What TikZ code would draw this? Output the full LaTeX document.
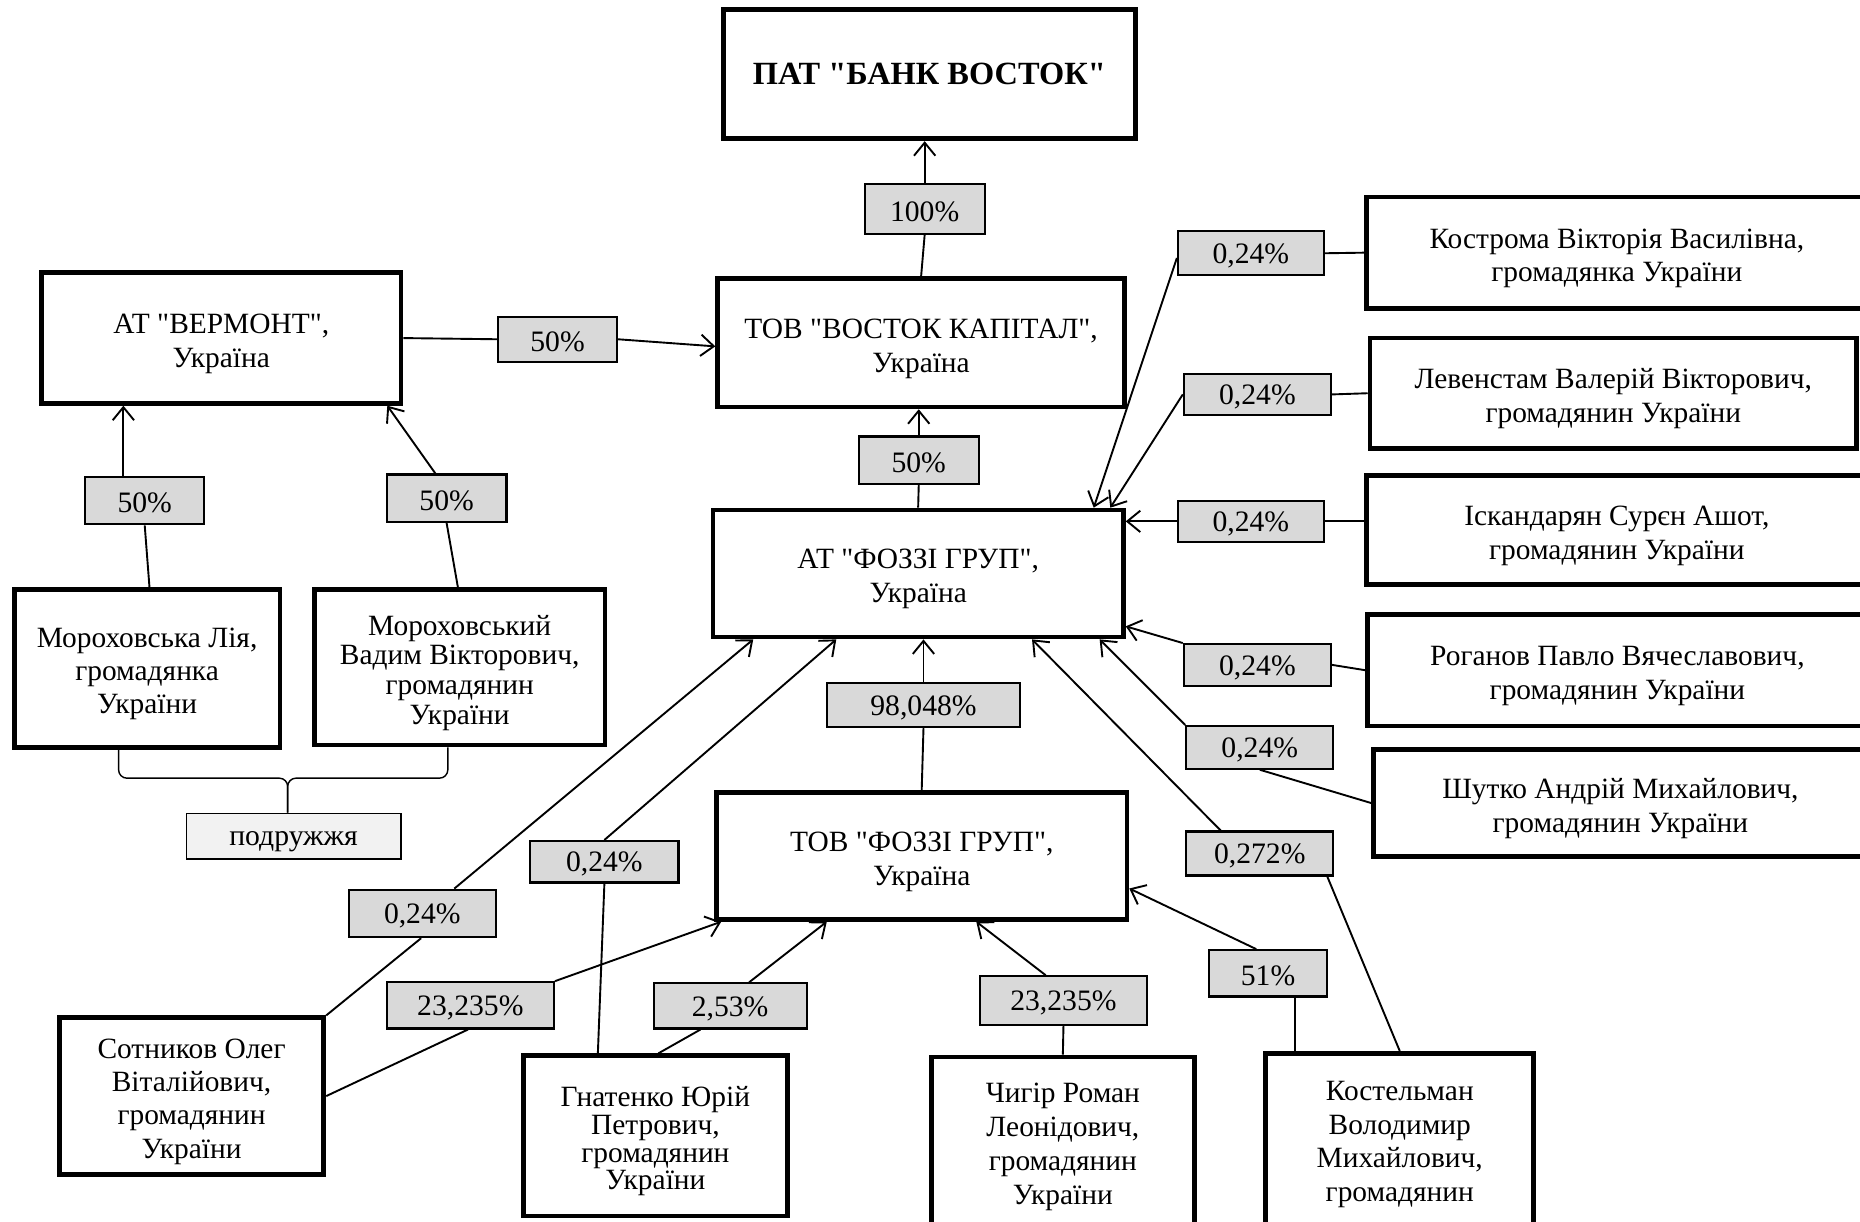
\documentclass[tikz,border=0pt]{standalone}
\usepackage{fontspec}
\setmainfont{Liberation Serif}[Ligatures=TeXOff]
\usetikzlibrary{arrows.meta}
\definecolor{lblgray}{HTML}{D9D9D9}
\definecolor{podgray}{HTML}{F2F2F2}
\newcommand\topstrut{\rule{0pt}{26pt}}
\begin{document}
\begin{tikzpicture}[x=1pt,y=-1pt,
 plainbox/.style={draw, line width=4pt, align=center, inner sep=0pt},
 box/.style={plainbox, font=\fontsize{24.8}{28.5}\selectfont},
 lbl/.style={draw, line width=1.8pt, fill=lblgray, inner sep=0pt, font=\fontsize{25}{28}\selectfont, execute at begin node={\rule{0pt}{21pt}}},
 conn/.style={line width=1.6pt},
 arr/.style={line width=1.6pt, -{Straight Barb[length=11pt,width=18pt]}},
 bracestyle/.style={line width=1.2pt, rounded corners=7pt},
]
\useasboundingbox (0,0) rectangle (1568,1030);
\fill[white] (0,0) rectangle (1568,1030);

% main boxes
\node[plainbox, minimum width=347pt, minimum height=109pt, font=\fontsize{27.3}{30}\selectfont\bfseries] (bank) at (783.5,62.5) {ПАТ "БАНК ВОСТОК"};
\node[box, minimum width=343pt, minimum height=108pt] (vostok) at (776.5,289) {\topstrut ТОВ "ВОСТОК КАПІТАЛ",\\Україна};
\node[box, minimum width=303pt, minimum height=110pt] (vermont) at (186.5,285) {\topstrut АТ "ВЕРМОНТ",\\Україна};
\node[box, minimum width=346pt, minimum height=107pt] (fat) at (774,483.5) {\topstrut АТ "ФОЗЗІ ГРУП",\\Україна};
\node[box, minimum width=346pt, minimum height=107pt] (ftov) at (777,721.5) {\topstrut ТОВ "ФОЗЗІ ГРУП",\\Україна};
\node[box, minimum width=224pt, minimum height=133pt, font=\fontsize{24.8}{28}\selectfont] (mlia) at (124,563.5) {\topstrut Мороховська Лія,\\громадянка\\України};
\node[box, minimum width=245pt, minimum height=131pt, font=\fontsize{24.8}{25}\selectfont] (mvad) at (387.5,562.5) {\topstrut Мороховський\\Вадим Вікторович,\\громадянин\\України};

\node[box, minimum width=422pt, minimum height=94pt] (kostroma) at (1363,213) {\topstrut Кострома Вікторія Василівна,\\громадянка України};
\node[box, minimum width=410pt, minimum height=93pt] (levenstam) at (1360,331.5) {\topstrut Левенстам Валерій Вікторович,\\громадянин України};
\node[box, minimum width=422pt, minimum height=92pt] (iskand) at (1363,447) {\topstrut Іскандарян Сурєн Ашот,\\громадянин України};
\node[box, minimum width=421pt, minimum height=94pt] (roganov) at (1363.5,565) {\topstrut Роганов Павло Вячеславович,\\громадянин України};
\node[box, minimum width=416pt, minimum height=90pt] (shutko) at (1366,677) {\topstrut Шутко Андрій Михайлович,\\громадянин України};

\node[box, minimum width=223pt, minimum height=132pt, font=\fontsize{24.8}{28}\selectfont] (sotnikov) at (161.5,924) {\topstrut Сотников Олег\\Віталійович,\\громадянин\\України};
\node[box, minimum width=223pt, minimum height=135pt, font=\fontsize{24.8}{23.5}\selectfont] (hnatenko) at (552.5,957.5) {\topstrut Гнатенко Юрій\\Петрович,\\громадянин\\України};
\node[box, minimum width=222pt, minimum height=142pt, font=\fontsize{24.8}{28.5}\selectfont] (chyhir) at (896,962) {\topstrut Чигір Роман\\Леонідович,\\громадянин\\України};
\node[box, minimum width=226pt, minimum height=144pt, font=\fontsize{24.8}{28.5}\selectfont] (kostelman) at (1180,960) {\topstrut Костельман\\Володимир\\Михайлович,\\громадянин};

% labels
\node[lbl, minimum width=101pt, minimum height=42pt] (l100) at (779.5,176) {100\%};
\node[lbl, minimum width=100pt, minimum height=38pt] (lverm) at (470,286) {50\%};
\node[lbl, minimum width=101pt, minimum height=40pt] (lvost) at (774.5,388) {50\%};
\node[lbl, minimum width=100pt, minimum height=40pt] (lmlia) at (122,422) {50\%};
\node[lbl, minimum width=101pt, minimum height=40pt] (lmvad) at (376.5,420) {50\%};
\node[lbl, fill=podgray, line width=1.2pt, minimum width=181pt, minimum height=38pt] (lpod) at (247.5,705) {подружжя};
\node[lbl, minimum width=123pt, minimum height=37pt] (lkos) at (1054.5,213.5) {0,24\%};
\node[lbl, minimum width=124pt, minimum height=35pt] (llev) at (1060,332.5) {0,24\%};
\node[lbl, minimum width=123pt, minimum height=35pt] (lisk) at (1054.5,439.5) {0,24\%};
\node[lbl, minimum width=124pt, minimum height=35pt] (lrog) at (1060,560.5) {0,24\%};
\node[lbl, minimum width=124pt, minimum height=36pt] (lshu) at (1062,630) {0,24\%};
\node[lbl, minimum width=124pt, minimum height=37pt] (lkst) at (1062,719.5) {0,272\%};
\node[lbl, minimum width=163pt, minimum height=37pt] (l98) at (778.5,594.5) {98,048\%};
\node[lbl, minimum width=125pt, minimum height=35pt] (lhn1) at (509.5,726.5) {0,24\%};
\node[lbl, minimum width=124pt, minimum height=40pt] (lsot1) at (356,770) {0,24\%};
\node[lbl, minimum width=141pt, minimum height=39pt] (lsot2) at (396.5,847.5) {23,235\%};
\node[lbl, minimum width=129pt, minimum height=38pt] (lhn2) at (615.5,848) {2,53\%};
\node[lbl, minimum width=141pt, minimum height=41pt] (lchy) at (896.5,843.5) {23,235\%};
\node[lbl, minimum width=100pt, minimum height=39pt] (l51) at (1069,820.5) {51\%};

% connectors
\draw[conn] (vostok.north) -- (l100.south);
\draw[arr] (l100.north) -- (l100.north |- bank.south);

\draw[conn] (vermont.east) -- (lverm.west);
\draw[arr] (lverm.east) -- ([yshift=-3pt]vostok.west);

\draw[conn] (fat.north) -- (lvost.south);
\draw[arr] (lvost.north) -- (lvost.north |- vostok.south);

\draw[conn] ([xshift=2pt]mlia.north) -- (lmlia.south);
\draw[arr] ([xshift=-18pt]lmlia.north) -- ([xshift=-82.5pt]vermont.south);

\draw[conn] ([xshift=-1.5pt]mvad.north) -- (lmvad.south);
\draw[arr] ([xshift=-9.5pt]lmvad.north) -- ([xshift=-13.5pt]vermont.south east);

\coordinate (bmid) at (242.5,656);
\coordinate (btip) at (242.5,685);
\draw[bracestyle] ([xshift=-24pt]mlia.south) |- (bmid) -- (btip);
\draw[bracestyle] ([xshift=-10pt]mvad.south) |- (bmid) -- (btip);

\draw[conn] (kostroma.west) -- (lkos.east);
\draw[arr] ([yshift=-4pt]lkos.west) -- ([xshift=-27pt]fat.north east);

\draw[conn] (levenstam.west) -- (llev.east);
\draw[arr] (llev.west) -- ([xshift=-13pt]fat.north east);

\draw[conn] (lisk.east -| iskand.west) -- (lisk.east);
\draw[arr] (lisk.west) -- (lisk.west -| fat.east);

\draw[conn] (roganov.west) -- (lrog.east);
\draw[arr] (lrog.north west) -- ([yshift=11pt]fat.south east);

\draw[conn] (shutko.west) -- (lshu.south);
\draw[arr] (lshu.north west) -- ([xshift=-22pt]fat.south east);

\draw[conn] (kostelman.north) -- ([xshift=-6pt]lkst.south east);
\draw[arr] ([xshift=-33pt]lkst.north) -- ([xshift=96pt]fat.south);

\draw[conn] ([xshift=-88pt]kostelman.north) -- ([xshift=23pt]l51.south);
\draw[arr] ([xshift=-10pt]l51.north) -- ([yshift=-27.5pt]ftov.east);

\draw[conn] (chyhir.north) -- (lchy.south);
\draw[arr] ([xshift=-15pt]lchy.north) -- ([xshift=46pt]ftov.south);

\draw[conn] ([xshift=2.5pt]hnatenko.north) -- ([xshift=-25pt]lhn2.south);
\draw[arr] ([xshift=16pt]lhn2.north) -- ([xshift=-80pt]ftov.south);

\draw[conn] (sotnikov.east) -- ([xshift=-2pt]lsot2.south);
\draw[arr] (lsot2.north east) -- ([xshift=6pt]ftov.south west);

\draw[conn] (sotnikov.north east) -- ([xshift=-1pt]lsot1.south);
\draw[arr] ([xshift=27pt]lsot1.north) -- ([xshift=-139pt]fat.south);

\draw[conn] ([xshift=-48.5pt]hnatenko.north) -- (lhn1.south);
\draw[arr] (lhn1.north) -- ([xshift=-69pt]fat.south);

\draw[conn] (ftov.north) -- (l98.south);
\draw[arr] (l98.north) -- (l98.north |- fat.south);
\end{tikzpicture}
\end{document}
